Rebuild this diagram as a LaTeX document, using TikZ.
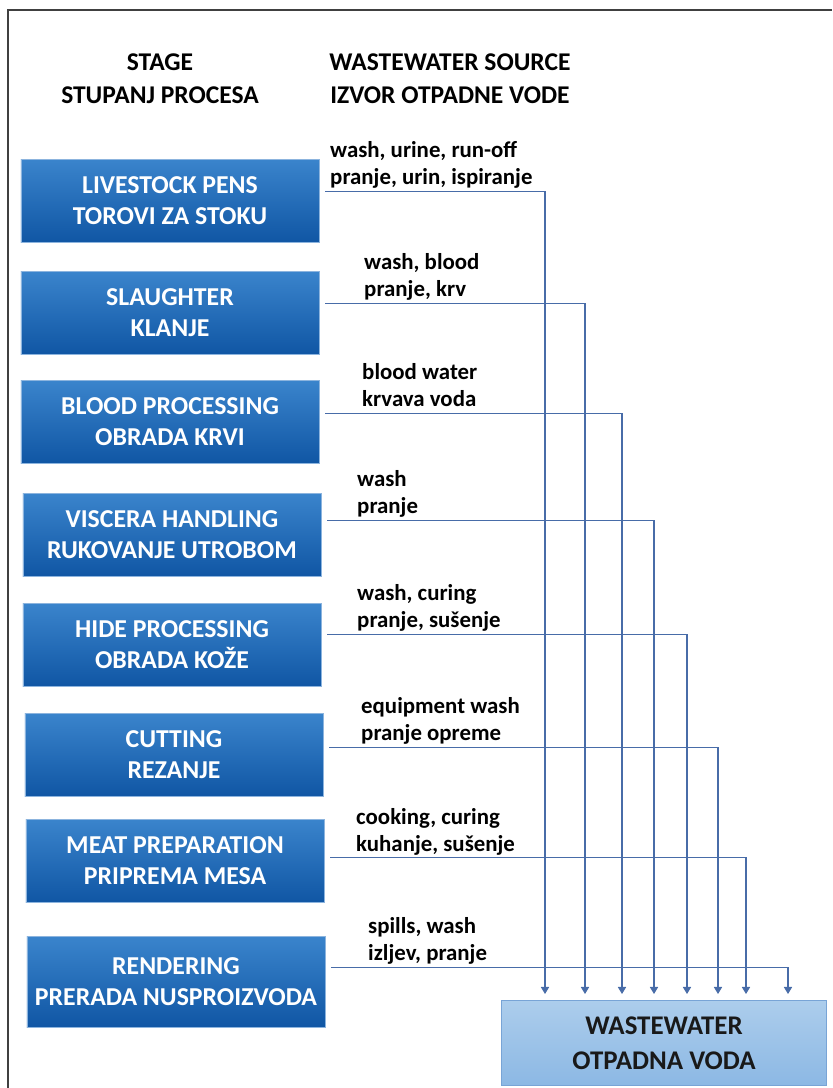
\documentclass[tikz,border=0pt]{standalone}
\usepackage{fontspec}
\setmainfont{Carlito}
\usetikzlibrary{arrows.meta}

\definecolor{boxtop}{RGB}{58,132,204}
\definecolor{boxbot}{RGB}{16,86,164}
\definecolor{boxedge}{RGB}{140,180,222}
\definecolor{flowblue}{RGB}{72,108,168}
\definecolor{wastetop}{RGB}{172,205,236}
\definecolor{wastebot}{RGB}{140,184,228}
\definecolor{wasteedge}{RGB}{120,164,214}

\tikzset{
  stagebox/.style={draw=boxedge, line width=0.6pt, top color=boxtop, bottom color=boxbot,
    text=white, font=\fontsize{22}{26.5}\selectfont\bfseries, align=center,
    minimum width=8.94cm, minimum height=2.5cm, inner sep=0pt},
  source/.style={anchor=south west, inner sep=0pt, align=left,
    font=\fontsize{19.5}{23}\selectfont\bfseries},
  heading/.style={align=center, font=\fontsize{21.8}{28}\selectfont\bfseries},
  flow/.style={draw=flowblue, line width=0.9pt, -{Triangle[width=7pt,length=6pt]}},
}

\begin{document}
\begin{tikzpicture}[x=0.03cm,y=-0.03cm]
		\useasboundingbox (0,0) rectangle (832,1088);
		% frame
		\draw[line width=1.2pt, black!75] (8,1088) -- (8,10) -- (832,10);

		% headings
		\node[heading] (stagehead) at (160,79) {STAGE\\STUPANJ PROCESA};
		\node[heading] (sourcehead) at (450,79) {WASTEWATER SOURCE\\IZVOR OTPADNE VODE};

		% stages
		\node[stagebox] (pens) at (170,201) {LIVESTOCK PENS\\TOROVI ZA STOKU};
		\node[stagebox] (slaughter) at (170,313) {SLAUGHTER\\KLANJE};
		\node[stagebox] (blood) at (170,422) {BLOOD PROCESSING\\OBRADA KRVI};
		\node[stagebox] (viscera) at (172,535) {VISCERA HANDLING\\RUKOVANJE UTROBOM};
		\node[stagebox] (hide) at (172,645) {HIDE PROCESSING\\OBRADA KOŽE};
		\node[stagebox] (cutting) at (174,755) {CUTTING\\REZANJE};
		\node[stagebox] (meat) at (175,861) {MEAT PREPARATION\\PRIPREMA MESA};
		\node[stagebox, minimum height=2.73cm] (rendering) at (176,982) {RENDERING\\PRERADA NUSPROIZVODA};

		% collected wastewater
		\node[draw=wasteedge, line width=0.6pt, top color=wastetop, bottom color=wastebot,
		  minimum width=9.75cm, minimum height=2.55cm, align=center, text=black!90,
		  font=\fontsize{23}{29.5}\selectfont\bfseries] (waste) at (664,1043) {WASTEWATER\\OTPADNA VODA};

		% sources
		\node[source] (srcpens) at (330,193) {wash, urine, run-off\\pranje, urin, ispiranje\strut};
		\node[source] (srcslaughter) at (364,305) {wash, blood\\pranje, krv\strut};
		\node[source] (srcblood) at (362,415) {blood water\\krvava voda\strut};
		\node[source] (srcviscera) at (357,522) {wash\\pranje\strut};
		\node[source] (srchide) at (357,636) {wash, curing\\pranje, sušenje\strut};
		\node[source] (srccutting) at (361,749) {equipment wash\\pranje opreme\strut};
		\node[source] (srcmeat) at (356,860) {cooking, curing\\kuhanje, sušenje\strut};
		\node[source] (srcrendering) at (368,969) {spills, wash\\izljev, pranje\strut};

		% inlets above the wastewater box
		\foreach \name/\x in {pens/545, slaughter/585, blood/622, viscera/654, hide/687, cutting/718, meat/746, rendering/788}
			\coordinate (in\name) at (\x,994);

		\draw[flow] ([xshift=5pt,yshift=8pt]pens.east) -| (inpens);
		\draw[flow] ([xshift=5pt,yshift=8pt]slaughter.east) -| (inslaughter);
		\draw[flow] ([xshift=5pt,yshift=7.5pt]blood.east) -| (inblood);
		\draw[flow] ([xshift=5pt,yshift=12.5pt]viscera.east) -| (inviscera);
		\draw[flow] ([xshift=5pt,yshift=9pt]hide.east) -| (inhide);
		\draw[flow] ([xshift=5pt,yshift=6.5pt]cutting.east) -| (incutting);
		\draw[flow] ([xshift=5pt,yshift=3pt]meat.east) -| (inmeat);
		\draw[flow] ([xshift=5pt,yshift=12.5pt]rendering.east) -| (inrendering);
\end{tikzpicture}
\end{document}
